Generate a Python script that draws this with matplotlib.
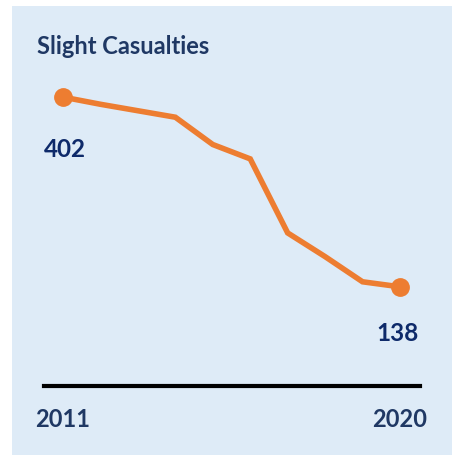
import matplotlib
matplotlib.use('Agg')
import matplotlib.pyplot as plt
from matplotlib.patches import Rectangle

# data
years = [2011, 2012, 2013, 2014, 2015, 2016, 2017, 2018, 2019, 2020]
casualties = [402, 392, 383, 374, 336, 316, 213, 180, 145, 138]
title = 'Slight Casualties'

bg = '#deebf7'
orange = '#ed7d31'
navy = '#1f3864'
W, H = 457, 456

plt.rcParams['font.family'] = ['Lato', 'DejaVu Sans']

fig = plt.figure(figsize=(W / 100, H / 100), dpi=100)
fig.patch.set_facecolor('white')

# light blue panel behind everything
fig.add_artist(Rectangle((12 / W, 0), 440 / W, (H - 7) / H, transform=fig.transFigure,
                         facecolor=bg, edgecolor='none', zorder=0))

ax = fig.add_axes([44 / W, (H - 387) / H, 376 / W, 327 / H])
ax.set_facecolor('none')
ax.plot(years, casualties, color=orange, lw=4, solid_joinstyle='miter', zorder=3)
ax.plot([years[0], years[-1]], [casualties[0], casualties[-1]], 'o', color=orange,
        ms=12.5, zorder=4)

span = years[-1] - years[0]
ax.set_xlim(years[0] - 19 / 337 * span, years[-1] + 20 / 337 * span)
ax.set_ylim(0, 455)

for s in ['top', 'left', 'right']:
    ax.spines[s].set_visible(False)
ax.spines['bottom'].set_linewidth(3)
ax.spines['bottom'].set_color('black')
ax.set_yticks([])
ax.set_xticks([years[0], years[-1]])
ax.set_xticklabels([str(years[0]), str(years[-1])], fontsize=17, fontweight='bold', color=navy)
ax.tick_params(axis='x', length=0, pad=15)

ax.annotate(str(casualties[0]), (years[0], casualties[0]), xytext=(2, -51),
            textcoords='offset pixels', ha='center', va='center',
            fontsize=17.5, fontweight='bold', color='#0e2a6a')
ax.annotate(str(casualties[-1]), (years[-1], casualties[-1]), xytext=(-2, -46),
            textcoords='offset pixels', ha='center', va='center',
            fontsize=17.5, fontweight='bold', color='#0e2a6a')

fig.text(37 / W, 1 - 46 / H, title, ha='left', va='center', fontsize=17,
         fontweight='bold', color=navy)

fig.savefig('out.png', dpi=100, facecolor=fig.get_facecolor())
